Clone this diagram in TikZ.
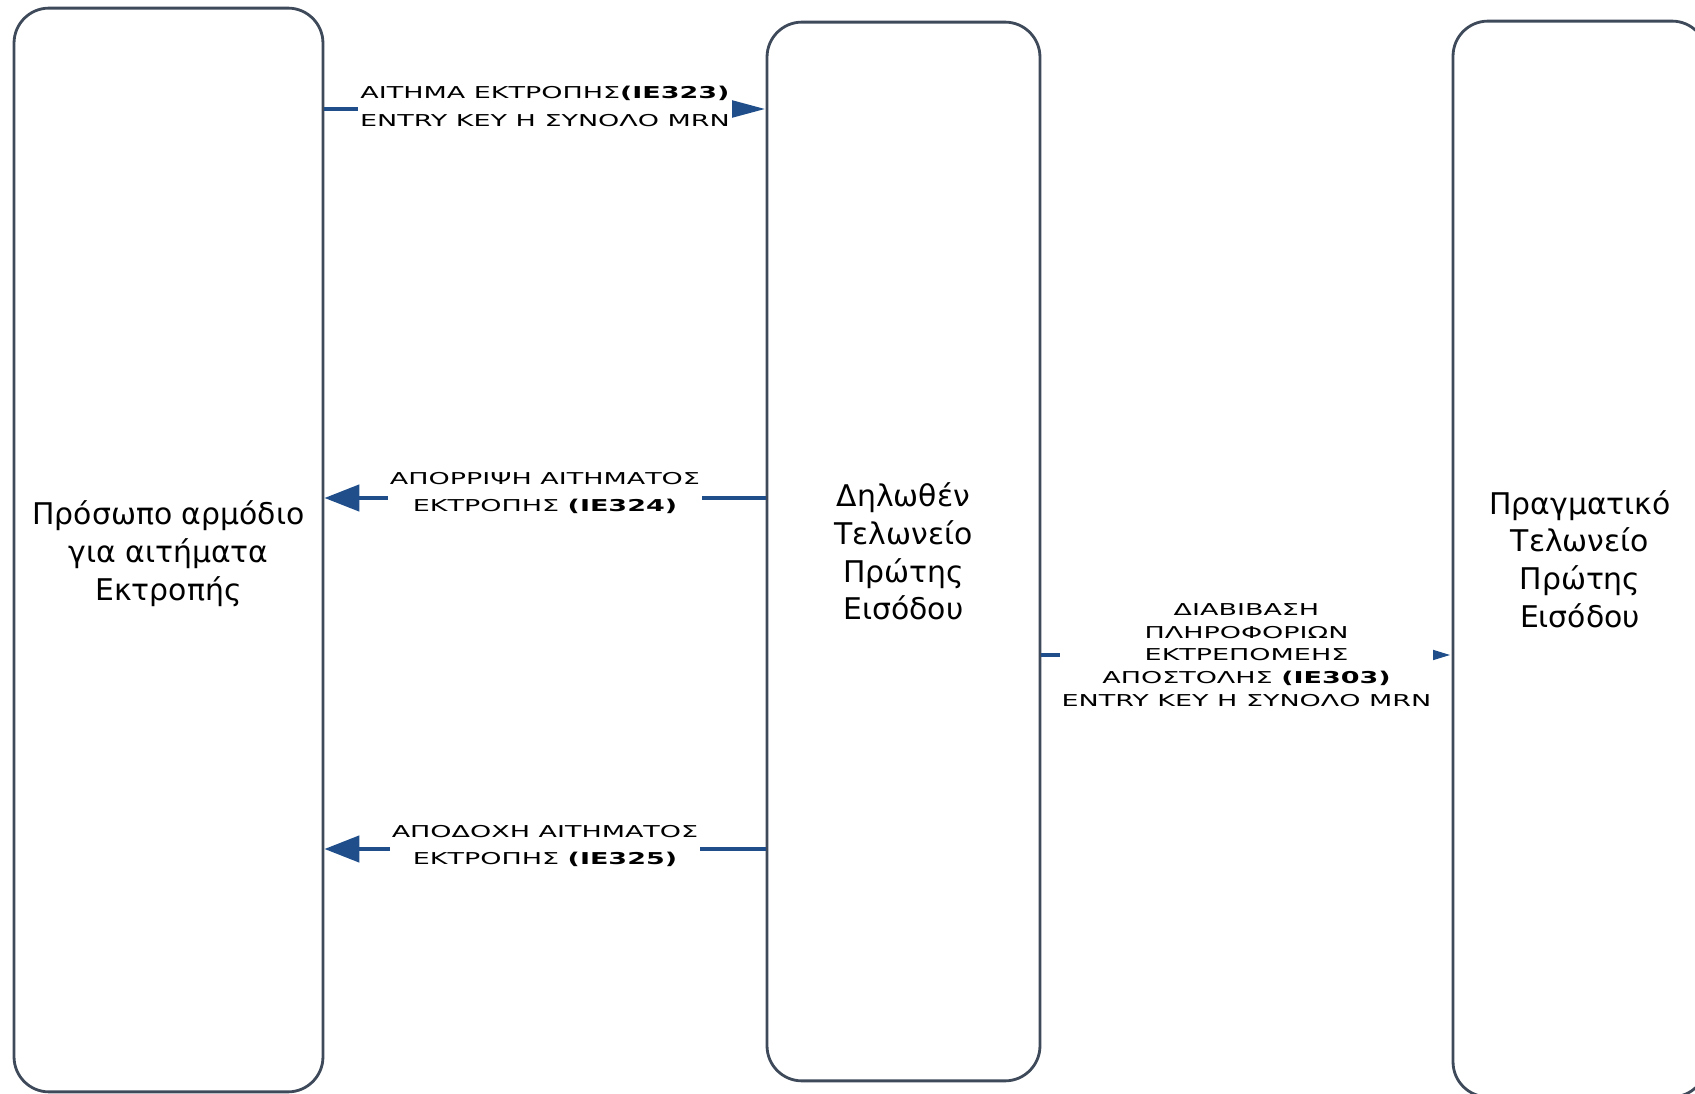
\documentclass[tikz,border=0pt]{standalone}
\usepackage{fontspec}
\setmainfont{DejaVu Sans}
\newfontfamily\capsfont[FakeStretch=1.65]{DejaVu Sans}
\usetikzlibrary{arrows.meta}
\definecolor{boxline}{HTML}{3E4A5A}
\definecolor{msgblue}{HTML}{1F4E8A}

\begin{document}
\begin{tikzpicture}[x=0.02cm,y=-0.02cm,
	office/.style={draw=boxline, line width=1.6pt, rounded corners=0.7cm, align=center, inner sep=0pt, font=\fontsize{17}{21.5}\selectfont},
	msg/.style={draw=msgblue, line width=2.6pt},
	lbl/.style={fill=white, align=center, inner sep=1pt, font=\capsfont\fontsize{9.3}{15.9}\selectfont}]
	%\draw[help lines] (0,0) grid (1695,1094);
	\useasboundingbox (0,0) rectangle (1695,1094);
	\clip (0,0) rectangle (1695,1094);
	\node[office, minimum width=6.18cm, minimum height=21.68cm] (requester) at (168.5,550) {\\[-0.13cm]Πρόσωπο αρμόδιο\\για αιτήματα\\Εκτροπής};
	\node[office, minimum width=5.46cm, minimum height=21.18cm] (declared) at (903.5,551.5) {Δηλωθέν\\Τελωνείο\\Πρώτης\\Εισόδου};
	\node[office, minimum width=5.08cm, minimum height=21.52cm] (actual) at (1580,559) {Πραγματικό\\Τελωνείο\\Πρώτης\\Εισόδου};
	\draw[msg, -{Triangle[length=0.7cm,width=0.34cm]}] (requester.east |- 0,109) -- node[lbl, yshift=0.06cm] {ΑΙΤΗΜΑ ΕΚΤΡΟΠΗΣ\textbf{(IE323)}\\ENTRY KEY Η ΣΥΝΟΛΟ MRN} (declared.west |- 0,109);
	\draw[msg, -{Triangle[length=0.7cm,width=0.52cm]}] (declared.west |- 0,498) -- node[lbl, yshift=0.1cm] {ΑΠΟΡΡΙΨΗ ΑΙΤΗΜΑΤΟΣ\\ΕΚΤΡΟΠΗΣ \textbf{(IE324)}} (requester.east |- 0,498);
	\draw[msg, -{Triangle[length=0.7cm,width=0.52cm]}] (declared.west |- 0,849) -- node[lbl, yshift=0.06cm] {ΑΠΟΔΟΧΗ ΑΙΤΗΜΑΤΟΣ\\ΕΚΤΡΟΠΗΣ \textbf{(IE325)}} (requester.east |- 0,849);
	\draw[msg, -{Triangle[length=0.44cm,width=0.22cm]}] (declared.east |- 0,655) -- node[lbl, font=\capsfont\fontsize{9.3}{12.9}\selectfont] {ΔΙΑΒΙΒΑΣΗ\\ΠΛΗΡΟΦΟΡΙΩΝ\\ΕΚΤΡΕΠΟΜΕΗΣ\\ΑΠΟΣΤΟΛΗΣ \textbf{(IE303)}\\ENTRY KEY Η ΣΥΝΟΛΟ MRN} (actual.west |- 0,655);
\end{tikzpicture}
\end{document}
